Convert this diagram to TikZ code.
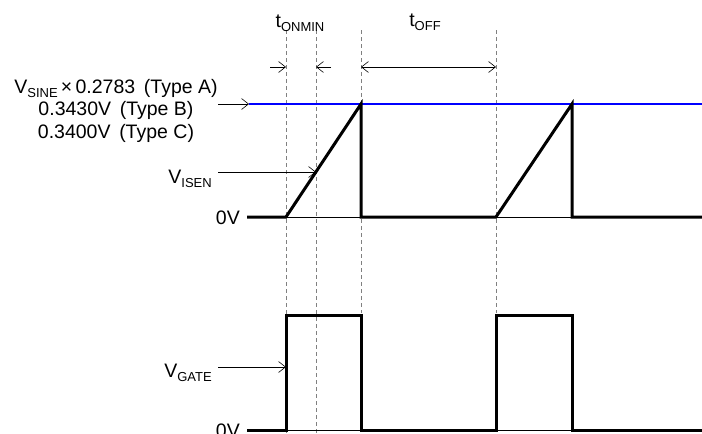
\documentclass[tikz,border=0pt]{standalone}
\usepackage{fontspec}
\setmainfont{Liberation Sans}
\usetikzlibrary{arrows.meta, positioning}

\newcommand{\sigsub}[1]{\raisebox{-0.22em}{\fontsize{13}{13}\selectfont #1}}

\begin{document}
\begin{tikzpicture}[x=1pt, y=-1pt, >={Straight Barb[length=7pt, width=11pt]},
        signal/.style={line width=3pt, line join=miter},
        guide/.style={gray, line width=0.8pt, dash pattern=on 4pt off 3pt},
        pointer/.style={->, line width=0.6pt},
        lbl/.style={font=\fontsize{19.5}{23}\selectfont, inner sep=0pt}]

        \useasboundingbox (0,0) rectangle (702,434);

        % --- Timing guides ---
        \draw[guide] (286,30) -- (286,434);
        \draw[guide] (316,30) -- (316,434);
        \draw[guide] (361,30) -- (361,313);
        \draw[guide] (496,30) -- (496,313);

        % --- Timing labels ---
        \node[lbl, anchor=base] (ton)  at (300,27) {t\sigsub{ONMIN}};
        \node[lbl, anchor=base] (toff) at (425,26) {t\sigsub{OFF}};

        \coordinate (onL)  at (270,67);
        \coordinate (onA)  at (286,67);
        \coordinate (onR)  at (331,67);
        \coordinate (onB)  at (316,67);
        \coordinate (offA) at (361,67);
        \coordinate (offB) at (496,67);
        \draw[pointer] (onL) -- (onA);
        \draw[pointer] (onR) -- (onB);
        \draw[<->, line width=0.6pt] (offA) -- (offB);

        % --- Threshold level ---
        \node[lbl, anchor=base] (sine)  at (116,93)  {V\sigsub{SINE}\,×\,0.2783\, (Type A)};
        \node[lbl, anchor=base] (typeb) at (116,115) {0.3430V\, (Type B)};
        \node[lbl, anchor=base] (typec) at (116,138) {0.3400V\, (Type C)};
        \coordinate (lvlT) at (218,104);
        \coordinate (lvl)  at (249,104);
        \draw[pointer] (lvlT) -- (lvl);
        \draw[blue, line width=1.5pt] (lvl) -- (702,104);

        % --- Current sense waveform ---
        \draw[line width=0.6pt] (286,217) -- (702,217);
        \draw[signal] (247,217) -- (286,217) -- (361,104) -- (361,217)
              -- (496,217) -- (572,104) -- (572,217) -- (702,217);
        \node[lbl, anchor=base east] (isen) at (212,183) {V\sigsub{ISEN}};
        \node[lbl, anchor=base east] (zeroA) at (240,224) {0V};
        \coordinate (isenT) at (218,172);
        \coordinate (isenP) at (316,172);
        \draw[pointer] (isenT) -- (isenP);

        % --- Gate waveform ---
        \draw[line width=0.6pt] (286,430) -- (702,430);
        \draw[signal] (247,430) -- (286,430) -- (286,315) -- (361,315) -- (361,430)
              -- (496,430) -- (496,315) -- (572,315) -- (572,430) -- (702,430);
        \node[lbl, anchor=base east] (gate) at (212,377) {V\sigsub{GATE}};
        \node[lbl, anchor=base east] (zeroB) at (240,437) {0V};
        \coordinate (gateT) at (218,367);
        \coordinate (gateP) at (286,367);
        \draw[pointer] (gateT) -- (gateP);

\end{tikzpicture}
\end{document}
